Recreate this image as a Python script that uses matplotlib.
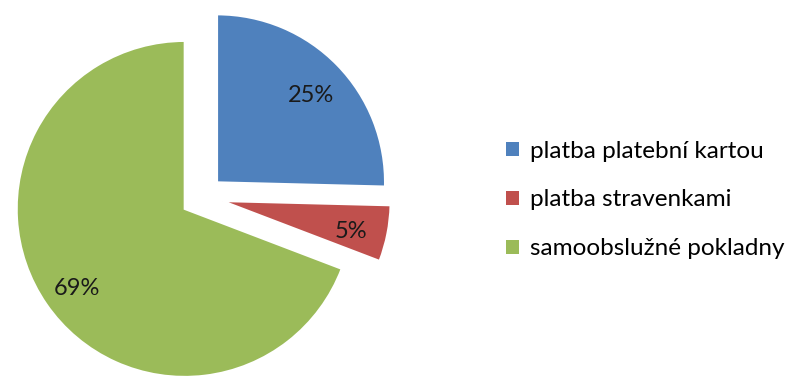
import matplotlib.pyplot as plt
from matplotlib.patches import Patch

labels = ["platba platební kartou", "platba stravenkami", "samoobslužné pokladny"]
values = [25.4, 5.4, 69.2]
colors = ["#4F81BD", "#C0504D", "#9BBB59"]

plt.rcParams['font.family'] = ['Lato', 'DejaVu Sans']

fig = plt.figure(figsize=(7.87, 3.78), dpi=100)
# axes in pixel-like units: pie centre at (202, 197) from top-left
ax = fig.add_axes([0, 0, 400 / 787, 1])
wedges, texts, autotexts = ax.pie(
    values, colors=colors, startangle=90, counterclock=False,
    radius=168, explode=[21, 21, 21], autopct='%1.0f%%', pctdistance=0.78,
    wedgeprops=dict(edgecolor='white', linewidth=1.5),
    textprops=dict(fontsize=17, color='#1a1a1a'))
for t in autotexts:
    x, y = t.get_position()
    t.set_position((x, y - 5))
ax.set_xlim(-202, 198)
ax.set_ylim(-181, 197)
ax.set_aspect('auto')

handles = [Patch(facecolor=c, edgecolor='none') for c in colors]
fig.legend(handles, labels, loc='center left', bbox_to_anchor=(484 / 787, 1 - 200 / 378),
           frameon=False, fontsize=17.5, handlelength=0.55, handleheight=0.55,
           handletextpad=0.45, labelspacing=1.15)

fig.savefig("out.png", dpi=100)
